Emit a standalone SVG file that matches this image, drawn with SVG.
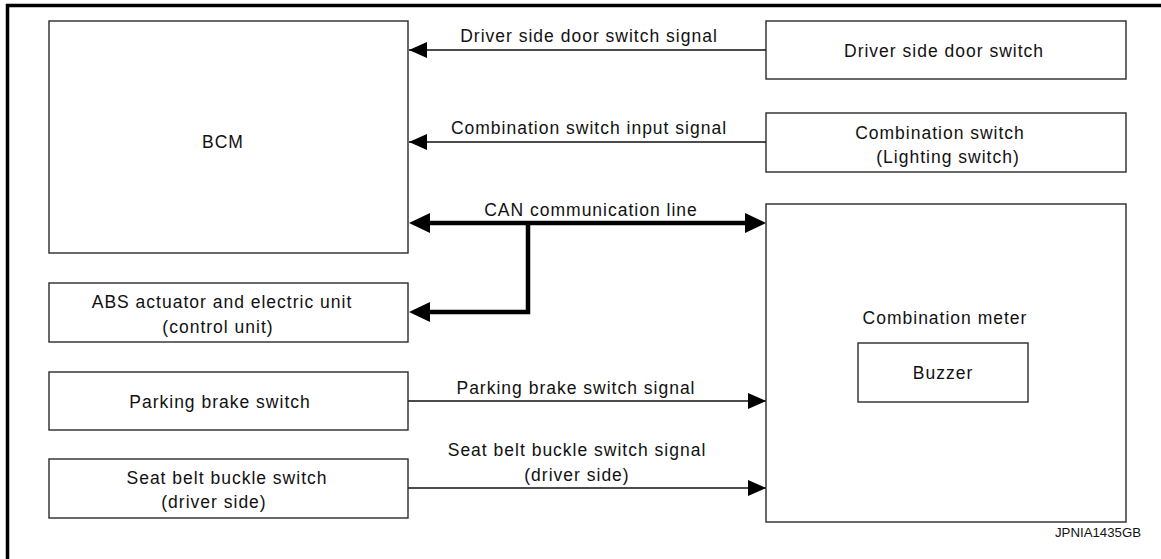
<svg xmlns="http://www.w3.org/2000/svg" width="1161" height="559" viewBox="0 0 1161 559">
<style>
.box{fill:#fff;stroke:#2a2a2a;stroke-width:1.4}
.t{font-family:"Liberation Sans",Arial,sans-serif;font-size:17.5px;letter-spacing:1px;fill:#111;text-anchor:middle}
.thin{fill:none;stroke:#111;stroke-width:1.3}
.thick{fill:none;stroke:#000;stroke-width:4.5;stroke-linejoin:miter}
</style>
<defs>
<marker id="ah" markerUnits="userSpaceOnUse" markerWidth="18" markerHeight="16" refX="18" refY="8" orient="auto-start-reverse">
<path d="M0,0 L18,8 L0,16 z" fill="#000"/>
</marker>
<marker id="ahb" markerUnits="userSpaceOnUse" markerWidth="21" markerHeight="20" refX="6" refY="10" orient="auto-start-reverse">
<path d="M0,0 L21,10 L0,20 z" fill="#000"/>
</marker>
</defs>
<rect width="1161" height="559" fill="#fff"/>
<path d="M7.5,559 L7.5,5.5 L1161,5.5" fill="none" stroke="#000" stroke-width="3.5"/>

<g id="connectors">
<path class="thin" d="M766,50 L409,50" marker-end="url(#ah)"/>
<text class="t" x="589" y="42">Driver side door switch signal</text>
<path class="thin" d="M766,142 L409,142" marker-end="url(#ah)"/>
<text class="t" x="589" y="134">Combination switch input signal</text>
<path class="thick" d="M424,223 L751,223" marker-start="url(#ahb)" marker-end="url(#ahb)"/>
<path class="thick" d="M528,221 L528,312 L424,312" marker-end="url(#ahb)"/>
<text class="t" x="591" y="216">CAN communication line</text>
<path class="thin" d="M408,401 L766,401" marker-end="url(#ah)"/>
<text class="t" x="576" y="394">Parking brake switch signal</text>
<path class="thin" d="M408,488 L766,488" marker-end="url(#ah)"/>
<text class="t" x="577" y="456">Seat belt buckle switch signal</text>
<text class="t" x="577" y="481">(driver side)</text>
</g>

<g id="bcm">
<rect class="box" x="49" y="21" width="359" height="232"/>
<text class="t" x="223" y="148">BCM</text>
</g>
<g id="door-switch">
<rect class="box" x="766" y="21" width="360" height="58"/>
<text class="t" x="944" y="57">Driver side door switch</text>
</g>
<g id="combination-switch">
<rect class="box" x="766" y="113" width="360" height="59"/>
<text class="t" x="940" y="139">Combination switch</text>
<text class="t" x="948" y="163">(Lighting switch)</text>
</g>
<g id="abs">
<rect class="box" x="49" y="283" width="359" height="59"/>
<text class="t" x="222" y="308">ABS actuator and electric unit</text>
<text class="t" x="218" y="333">(control unit)</text>
</g>
<g id="parking-brake">
<rect class="box" x="49" y="372" width="359" height="58"/>
<text class="t" x="220" y="408">Parking brake switch</text>
</g>
<g id="seat-belt">
<rect class="box" x="49" y="459" width="359" height="59"/>
<text class="t" x="227" y="484">Seat belt buckle switch</text>
<text class="t" x="214" y="508">(driver side)</text>
</g>
<g id="combination-meter">
<rect class="box" x="766" y="204" width="360" height="318"/>
<text class="t" x="945" y="324">Combination meter</text>
<g id="buzzer">
<rect class="box" x="858" y="343" width="170" height="59"/>
<text class="t" x="943" y="379">Buzzer</text>
</g>
</g>
<text x="1141" y="537" font-family="'Liberation Sans',Arial,sans-serif" font-size="13.5" text-anchor="end" fill="#111" textLength="86" lengthAdjust="spacingAndGlyphs">JPNIA1435GB</text>
</svg>
